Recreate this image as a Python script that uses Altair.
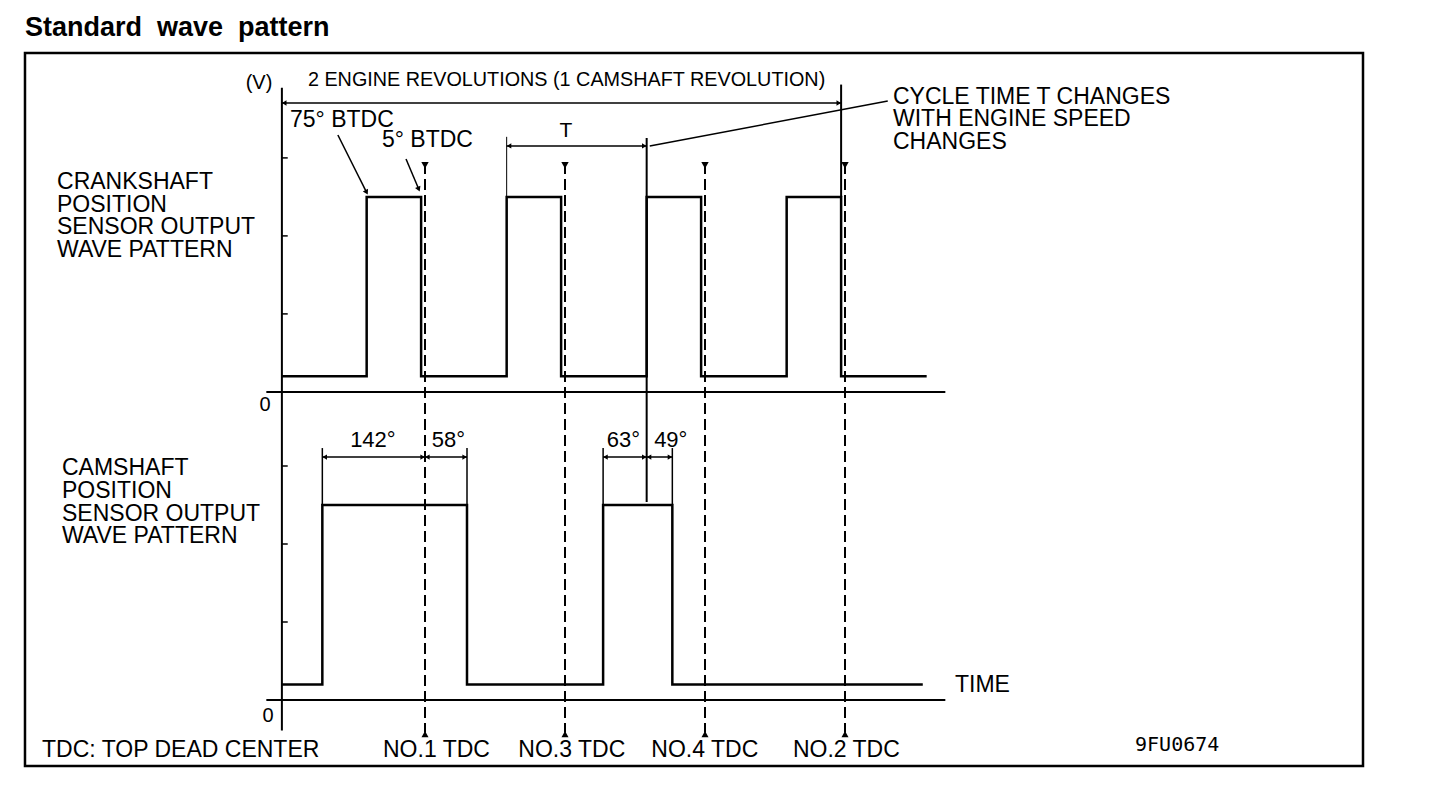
import altair as alt
import pandas as pd

FONT = "Liberation Sans"

# ---- values -----------------------------------------------------------------
# x: crank angle in degrees (0 = No.1 TDC); y: signal level in volts
TDC_ANGLE = [0, 180, 360, 540]
TDC_LABEL = ["NO.1 TDC", "NO.3 TDC", "NO.4 TDC", "NO.2 TDC"]
TDC_LABEL_X = [-54, 120, 291, 473]
CRANK_RISE = [-75, 105, 285, 465]      # 75° BTDC
CRANK_FALL = [-5, 175, 355, 535]       # 5° BTDC
CAM_RISE = [-132, 229]
CAM_FALL = [54, 318]
LOW_V = 0.2
HIGH_V = 2.5
AXIS_X = -184
CRANK_END = 645
CAM_END = 640
TICK_V = [1, 2, 3]
CAM_DIM_TEXT = ["142°", "58°", "63°", "49°"]
CAM_DIM_X = [-67, 30, 255, 316]
CRANK_LABEL = ["CRANKSHAFT", "POSITION", "SENSOR OUTPUT", "WAVE PATTERN"]
CAM_LABEL = ["CAMSHAFT", "POSITION", "SENSOR OUTPUT", "WAVE PATTERN"]
CYCLE_LABEL = ["CYCLE TIME T CHANGES", "WITH ENGINE SPEED", "CHANGES"]

CRANK_OFF = 3.95   # crankshaft panel sits above the camshaft panel on one shared scale

# ---- waveforms --------------------------------------------------------------
wave_rows = []


def add_wave(panel, rises, falls, end, off):
    pts = [(AXIS_X, LOW_V)]
    for r, f in zip(rises, falls):
        pts += [(r, LOW_V), (r, HIGH_V), (f, HIGH_V), (f, LOW_V)]
    pts.append((end, LOW_V))
    for i, (a, v) in enumerate(pts):
        wave_rows.append({"panel": panel, "i": i, "x": a, "y": v + off})


add_wave("crank", CRANK_RISE, CRANK_FALL, CRANK_END, CRANK_OFF)
add_wave("cam", CAM_RISE, CAM_FALL, CAM_END, 0.0)
wave = pd.DataFrame(wave_rows)

# ---- solid lines (axes, ticks, dimension and leader lines) -----------------
rules = []


def rule(x, x2, y, y2, w):
    rules.append({"x": x, "x2": x2, "y": y, "y2": y2, "w": w})


rule(AXIS_X, AXIS_X, 7.85, -0.39, 2)                 # vertical axis
rule(-204, 669, CRANK_OFF, CRANK_OFF, 2)             # crank 0 V line
rule(-204, 669, 0, 0, 2)                             # cam 0 V line
for v in TICK_V:
    rule(AXIS_X, AXIS_X + 7.5, v + CRANK_OFF, v + CRANK_OFF, 1.5)
    rule(AXIS_X, AXIS_X + 7.5, v, v, 1.5)
rule(535, 535, 7.89, HIGH_V + CRANK_OFF, 2)          # 2-revolution extension
rule(AXIS_X, 535, 7.654, 7.654, 1.5)                 # 2-revolution dimension
rule(105, 285, 7.103, 7.103, 1.5)                    # T dimension
rule(105, 105, 7.22, HIGH_V + CRANK_OFF, 1)
rule(285, 285, 7.205, 2.54, 2)
rule(289, 595, 7.103, 7.679, 1.5)                    # leader to note
rule(-112, -75.6, 7.244, 6.518, 1.5)                 # 75° BTDC leader
rule(-24.4, -8.5, 6.936, 6.56, 1.5)                  # 5° BTDC leader
rule(CAM_RISE[0], CAM_FALL[0], 3.115, 3.115, 1.5)
rule(CAM_RISE[1], CAM_FALL[1], 3.115, 3.115, 1.5)
for a in CAM_RISE + CAM_FALL:
    rule(a, a, 3.23, HIGH_V, 1.5)
rules = pd.DataFrame(rules)

dashed = pd.DataFrame({"x": TDC_ANGLE, "x2": TDC_ANGLE,
                       "y": [6.885] * 4, "y2": [-0.42] * 4})

# ---- arrowheads -----------------------------------------------------------
heads = []


def head(x, y, a, s=28):
    heads.append({"x": x, "y": y, "a": a, "s": s})


head(AXIS_X + 4, 7.654, 270)
head(531, 7.654, 90)
head(109, 7.103, 270)
head(281, 7.103, 90)
head(-75.6, 6.518, 153, 34)
head(-8.5, 6.56, 157, 34)
for lo, mid, hi in [(CAM_RISE[0], 0, CAM_FALL[0]), (CAM_RISE[1], 285, CAM_FALL[1])]:
    head(lo + 4, 3.115, 270)
    head(mid - 4, 3.115, 90)
    head(mid + 4, 3.115, 270)
    head(hi - 4, 3.115, 90)
for a in TDC_ANGLE:
    head(a, 6.87, 180, 55)
    head(a, -0.45, 0, 50)
heads = pd.DataFrame(heads)

# ---- texts ------------------------------------------------------------------
left_txt = []
center_txt = []


def lt(t, x, y, fs=23):
    left_txt.append({"t": t, "x": x, "y": y, "fs": fs})


def ct(t, x, y, fs=22):
    center_txt.append({"t": t, "x": x, "y": y, "fs": fs})


lt("75° BTDC", -173.6, 7.436)
lt("5° BTDC", -55.3, 7.179)
lt("TDC: TOP DEAD CENTER", -492.4, -0.641)
for t, x in zip(TDC_LABEL, TDC_LABEL_X):
    lt(t, x, -0.641)
lt("TIME", 681.4, 0.192)

ct("(V)", -213.4, 7.91, 20)
ct("2 ENGINE REVOLUTIONS (1 CAMSHAFT REVOLUTION)", 182, 7.949, 19.8)
ct("T", 181.3, 7.295, 21)
ct("0", -205.7, CRANK_OFF - 0.167, 20)
ct("0", -201.9, -0.205, 20)
for t, x in zip(CAM_DIM_TEXT, CAM_DIM_X):
    ct(t, x, 3.333, 22)

left_txt = pd.DataFrame(left_txt)
center_txt = pd.DataFrame(center_txt)

# multi-line notes (one text each, wrapped on line breaks; y = first line)
blocks = pd.DataFrame({
    "t": ["\n".join(CRANK_LABEL), "\n".join(CAM_LABEL), "\n".join(CYCLE_LABEL)],
    "x": [-473.1, -466.7, 601.7],
    "y": [6.641, 2.97, 7.737],
})

title_txt = pd.DataFrame({"t": ["Standard\u00a0 wave\u00a0 pattern"], "x": [-514.3], "y": [8.62]})
code_txt = pd.DataFrame({"t": ["9FU0674"], "x": [912.9], "y": [-0.577]})
frame = pd.DataFrame({"x": [-514.3], "x2": [1206], "y": [8.295], "y2": [-0.846]})

# ---- scales --------------------------------------------------------------
xs = alt.Scale(domain=[0, 540], range=[417, 837], zero=False, nice=False)
ys = alt.Scale(domain=[0, 1], range=[692, 614], zero=False, nice=False)


def X(f="x"):
    return alt.X(f"{f}:Q", scale=xs, axis=None)


def Y(f="y"):
    return alt.Y(f"{f}:Q", scale=ys, axis=None)


border = alt.Chart(frame).mark_rect(fillOpacity=0, stroke="black", strokeWidth=2.5).encode(
    x=X(), x2="x2:Q", y=Y(), y2="y2:Q")

solid = alt.Chart(rules).mark_rule(color="black").encode(
    x=X(), x2="x2:Q", y=Y(), y2="y2:Q",
    strokeWidth=alt.StrokeWidth("w:Q", scale=None))

dash = alt.Chart(dashed).mark_rule(color="black", strokeWidth=2, strokeDash=[11, 5]).encode(
    x=X(), x2="x2:Q", y=Y(), y2="y2:Q")

lines = alt.Chart(wave).mark_line(color="black", strokeWidth=2.5, interpolate="linear").encode(
    x=X(), y=Y(), detail="panel:N", order="i:Q")

arrows = alt.Chart(heads).mark_point(filled=True, color="black", opacity=1, shape="triangle").encode(
    x=X(), y=Y(), angle=alt.Angle("a:Q", scale=None), size=alt.Size("s:Q", scale=None))

txt_l = alt.Chart(left_txt).mark_text(align="left", baseline="middle", font=FONT, color="black").encode(
    x=X(), y=Y(), text="t:N", size=alt.Size("fs:Q", scale=None))

txt_b = alt.Chart(blocks).mark_text(align="left", baseline="middle", font=FONT, fontSize=23,
                                    lineBreak="\n", lineHeight=22.6, color="black").encode(
    x=X(), y=Y(), text="t:N")

txt_c = alt.Chart(center_txt).mark_text(align="center", baseline="middle", font=FONT, color="black").encode(
    x=X(), y=Y(), text="t:N", size=alt.Size("fs:Q", scale=None))

txt_title = alt.Chart(title_txt).mark_text(align="left", baseline="middle", font=FONT, fontSize=27,
                                           fontWeight="bold", color="black").encode(
    x=X(), y=Y(), text="t:N")

txt_code = alt.Chart(code_txt).mark_text(align="left", baseline="middle", font="DejaVu Sans Mono",
                                         fontSize=20, color="black").encode(
    x=X(), y=Y(), text="t:N")

chart = alt.layer(border, solid, dash, lines, arrows, txt_l, txt_b, txt_c, txt_title, txt_code).properties(
    width=1440, height=770, padding=0,
    autosize=alt.AutoSizeParams(type="none"),
    background="white",
).configure_view(strokeWidth=0)

chart.save("out.html", embed_options={"renderer": "svg", "actions": False})
